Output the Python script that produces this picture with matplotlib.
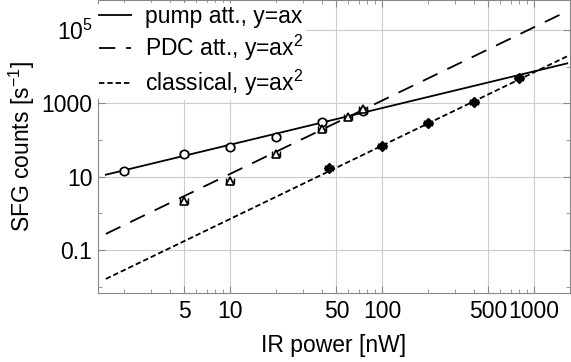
import numpy as np
import matplotlib
matplotlib.use("Agg")
from matplotlib import pyplot as plt
from matplotlib.ticker import FixedLocator, NullFormatter

plt.rcParams['font.family'] = ['Liberation Sans', 'DejaVu Sans']
plt.rcParams['mathtext.fontset'] = 'custom'
plt.rcParams['mathtext.rm'] = 'Liberation Sans'
plt.rcParams['mathtext.it'] = 'Liberation Sans:italic'
plt.rcParams['font.size'] = 16.5

# measured points
pump_x = [2, 5, 10, 20, 40, 75]
pump_y = [14.5, 41, 63, 123, 310, 630]
pdc_x = [5, 10, 20, 40, 60, 75]
pdc_y = [2.2, 7.6, 41, 200, 430, 700]
classical_x = [45, 100, 200, 400, 800]
classical_y = [17, 69, 285, 1100, 4800]

# fit coefficients (y = a x^n)
pump_a, pump_n = 7.5, 1
pdc_a, pdc_n = 0.12, 2
classical_a, classical_n = 0.0071, 2

xticks = [5, 10, 50, 100, 500, 1000]
xtick_labels = ['5', '10', '50', '100', '500', '1000']
yticks = [0.1, 10, 1000, 1e5]
ytick_labels = ['0.1', '10', '1000', r'$10^5$']

fig = plt.figure(figsize=(5.71, 3.62), dpi=100)
ax = fig.add_axes([0.1716, 0.1914, 0.8264, 0.8086])
ax.set_xscale('log')
ax.set_yscale('log')

xf = np.logspace(np.log10(1.52), np.log10(1650), 200)
ax.plot(xf, pump_a * xf**pump_n, color='k', lw=1.3, label='pump att., y=ax')
ax.plot(xf, pdc_a * xf**pdc_n, color='k', lw=1.3, dashes=(9, 6),
        label=r'PDC att., y=ax$^2$')
ax.plot(xf, classical_a * xf**classical_n, color='k', lw=1.3, dashes=(3, 1.6),
        label=r'classical, y=ax$^2$')

ekw = dict(fmt='none', ecolor='k', elinewidth=1.0, capsize=2.5, capthick=1.0)
rel = 0.06
ax.errorbar(pump_x, pump_y, xerr=rel * np.array(pump_x), **ekw)
ax.errorbar(pdc_x, pdc_y, xerr=rel * np.array(pdc_x), **ekw)
ax.errorbar(classical_x, classical_y, xerr=rel * np.array(classical_x), **ekw)
ax.plot(pump_x, pump_y, 'o', ms=6, mfc='white', mec='k', mew=1.2)
ax.plot(pdc_x, pdc_y, '^', ms=6, mfc='white', mec='k', mew=1.2)
ax.plot(classical_x, classical_y, 'D', ms=5.5, mfc='k', mec='k')

ax.set_xlim(1.35, 1717)
ax.set_ylim(10**-2.16, 10**5.82)

ax.xaxis.set_major_locator(FixedLocator(xticks))
ax.set_xticklabels(xtick_labels)
minor_x = [m * 10**d for d in range(0, 4) for m in range(1, 10)]
minor_x = [v for v in minor_x if v not in xticks]
ax.xaxis.set_minor_locator(FixedLocator(minor_x))
ax.xaxis.set_minor_formatter(NullFormatter())

ax.yaxis.set_major_locator(FixedLocator(yticks))
ax.set_yticklabels(ytick_labels)
ax.yaxis.set_minor_locator(FixedLocator([0.01, 1, 100, 1e4]))
ax.yaxis.set_minor_formatter(NullFormatter())

ax.grid(True, which='major', color='#cccccc', lw=0.8)
ax.set_axisbelow(True)
ax.tick_params(which='both', direction='in', top=True, right=True, color='#888888')
ax.tick_params(which='major', length=5)
ax.tick_params(which='minor', length=3)
ax.tick_params(axis='x', which='major', pad=5)
ax.tick_params(axis='y', which='major', pad=4)
for s in ax.spines.values():
    s.set_color('#888888')

ax.set_xlabel('IR power [nW]', labelpad=8)
ax.set_ylabel(r'SFG counts [s$^{\mathregular{-1}}$]', labelpad=3)

leg = ax.legend(loc='upper left', bbox_to_anchor=(-0.002, 0.99), frameon=True,
                facecolor='white', edgecolor='none', framealpha=1,
                handlelength=1.4, handletextpad=0.6, labelspacing=0.2,
                borderpad=0.1, borderaxespad=0)

fig.savefig('out.png', dpi=100)
